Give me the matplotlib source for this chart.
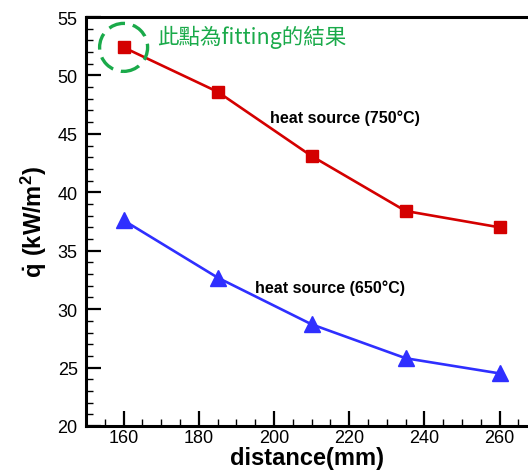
import matplotlib
matplotlib.use("Agg")
import matplotlib.pyplot as plt
from matplotlib.patches import Ellipse
from matplotlib.ticker import MultipleLocator

# heat flux vs. distance for two source temperatures
distance = [160, 185, 210, 235, 260]
q_750 = [52.4, 48.6, 43.1, 38.4, 37.0]
q_650 = [37.6, 32.7, 28.7, 25.8, 24.5]

label_750 = "heat source (750°C)"
label_650 = "heat source (650°C)"
note_text = "此點為fitting的結果"

plt.rcParams["font.family"] = ["Liberation Sans", "DejaVu Sans"]
plt.rcParams["mathtext.fontset"] = "custom"
plt.rcParams["mathtext.rm"] = "Liberation Sans"
plt.rcParams["mathtext.bf"] = "Liberation Sans:bold"

fig = plt.figure(figsize=(5.28, 4.77), dpi=100)
ax = fig.add_axes([86 / 528, 1 - 427 / 477, 1 - 86 / 528, (427 - 18) / 477])

red = "#d40000"
blue = "#2f2fff"
green = "#1aaa4a"

ax.plot(distance, q_750, color=red, lw=1.9, marker="s", ms=9, zorder=3)
ax.plot(distance, q_650, color=blue, lw=1.9, marker="^", ms=11, zorder=3)

ax.set_xlim(150, 150 + (528 - 86) / 3.76)
ax.set_ylim(20, 55)
ax.xaxis.set_major_locator(MultipleLocator(20))
ax.xaxis.set_minor_locator(MultipleLocator(5))
ax.yaxis.set_major_locator(MultipleLocator(5))
ax.yaxis.set_minor_locator(MultipleLocator(1))
ax.tick_params(which="major", direction="in", length=11, width=1.6,
               labelsize=13, top=False, right=False)
ax.tick_params(which="minor", direction="in", length=5, width=1.0,
               top=False, right=False)
ax.tick_params(axis="x", pad=2)
ax.tick_params(axis="y", pad=6)

for side in ("left", "bottom", "top"):
    ax.spines[side].set_linewidth(2.2)
ax.spines["right"].set_visible(False)

ax.set_xlabel("distance(mm)", fontsize=17, fontweight="bold", labelpad=0)
ax.set_ylabel(r"$\mathbf{\dot{q}\ (kW/m^2)}$", fontsize=17, labelpad=6)

ax.text(199, 46.4, label_750, fontsize=11.5, fontweight="bold", va="center")
ax.text(195, 31.9, label_650, fontsize=11.5, fontweight="bold", va="center")

# dashed ring around the fitted point
ax.add_patch(Ellipse((distance[0], q_750[0]), 48 / 3.76, 48 / 11.69,
                     fill=False, ec=green, lw=2.4, ls=(0, (5, 2.4)), zorder=4))
ax.text(169, 53.3, note_text, fontsize=15.5, color=green, va="center",
        family=["Noto Sans CJK TC", "DejaVu Sans"])

fig.savefig("out.png", dpi=100)
